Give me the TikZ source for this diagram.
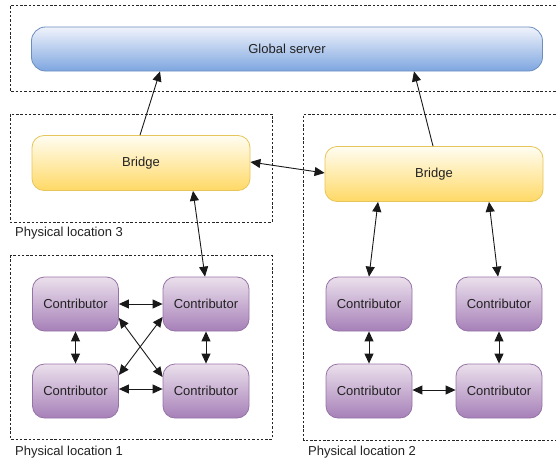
\documentclass[tikz,border=0pt]{standalone}
\usepackage{fontspec}
\setmainfont{Liberation Sans}
\usetikzlibrary{arrows.meta}
\definecolor{txt}{HTML}{222222}
\definecolor{gsTop}{HTML}{F0F3FB}
\definecolor{gsBot}{HTML}{7EA6E0}
\definecolor{gsLine}{HTML}{6C8EBF}
\definecolor{brTop}{HTML}{FFFDF2}
\definecolor{brBot}{HTML}{FFD966}
\definecolor{brLine}{HTML}{E6C55A}
\definecolor{coTop}{HTML}{EBE0EC}
\definecolor{coBot}{HTML}{A680B8}
\definecolor{coLine}{HTML}{9673A6}
\tikzset{
  base/.style={rectangle, rounded corners=12pt, inner sep=0pt, text=txt,
    font=\fontsize{13}{15}\selectfont, line width=0.8pt},
  gserver/.style={base, draw=gsLine, top color=gsTop, bottom color=gsBot,
    minimum width=511pt, minimum height=44pt, rounded corners=14pt},
  bridgebox/.style={base, draw=brLine, top color=brTop, bottom color=brBot,
    minimum width=218pt, minimum height=55pt},
  contrib/.style={base, draw=coLine, top color=coTop, bottom color=coBot,
    minimum width=86pt, minimum height=54pt},
  zone/.style={draw=black!85, line width=0.8pt, dash pattern=on 2.5pt off 1.8pt},
  zonelabel/.style={anchor=base west, inner sep=0pt, text=txt,
    font=\fontsize{13}{15}\selectfont},
  uni/.style={draw=black!90, line width=0.9pt, -{Triangle[length=10pt,width=9pt]}},
  bi/.style={draw=black!90, line width=0.9pt, {Triangle[length=10pt,width=9pt]}-{Triangle[length=10pt,width=9pt]}}
}
\begin{document}
\begin{tikzpicture}[x=1pt,y=-1pt]
\useasboundingbox (0,0) rectangle (556,460);
% zones
\draw[zone] (560,5.5) -- (10.5,5.5) -- (10.5,91.5) -- (560,91.5);
\draw[zone] (10.5,114) rectangle (272,222);
\draw[zone] (560,114) -- (303.5,114) -- (303.5,440) -- (560,440);
\draw[zone] (10.5,255) rectangle (272,439);
\node[zonelabel] (l3) at (15,236) {Physical location 3};
\node[zonelabel] (l1) at (15,455) {Physical location 1};
\node[zonelabel] (l2) at (308,455) {Physical location 2};
% nodes
\node[gserver] (gs) at (287,49) {Global server};
\node[bridgebox] (b1) at (141,163) {Bridge};
\node[bridgebox] (b2) at (434,174) {Bridge};
\node[contrib] (c1a) at (75.5,304) {Contributor};
\node[contrib] (c1b) at (206,304) {Contributor};
\node[contrib] (c1c) at (75.5,391) {Contributor};
\node[contrib] (c1d) at (206,391) {Contributor};
\node[contrib] (c2a) at (369,304) {Contributor};
\node[contrib] (c2b) at (499,304) {Contributor};
\node[contrib] (c2c) at (369,391) {Contributor};
\node[contrib] (c2d) at (499,391) {Contributor};
% connectors
\draw[uni] ([xshift=-1pt]b1.north) -- ([xshift=-127pt]gs.south);
\draw[uni] ([xshift=-1pt]b2.north) -- ([xshift=127pt]gs.south);
\draw[bi] ([yshift=1pt]b1.east) -- ([yshift=1pt]b2.west);
\draw[bi] ([xshift=52pt]b1.south) -- ([xshift=-1pt]c1b.north);
\draw[bi] ([xshift=-56pt]b2.south) -- (c2a.north);
\draw[bi] ([xshift=55pt]b2.south) -- ([xshift=-1pt]c2b.north);
\draw[bi] (c1a.east) -- (c1b.west);
\draw[bi] (c1a.south) -- (c1c.north);
\draw[bi] (c1b.south) -- (c1d.north);
\draw[bi] ([yshift=2pt]c1c.east) -- ([yshift=2pt]c1d.west);
\draw[bi] ([yshift=-14pt]c1a.east) -- ([yshift=14pt]c1d.west);
\draw[bi] ([yshift=-13pt]c1b.west) -- ([yshift=16pt]c1c.east);
\draw[bi] (c2a.south) -- (c2c.north);
\draw[bi] (c2b.south) -- (c2d.north);
\draw[bi] ([yshift=1pt]c2c.east) -- ([yshift=1pt]c2d.west);
\end{tikzpicture}
\end{document}
